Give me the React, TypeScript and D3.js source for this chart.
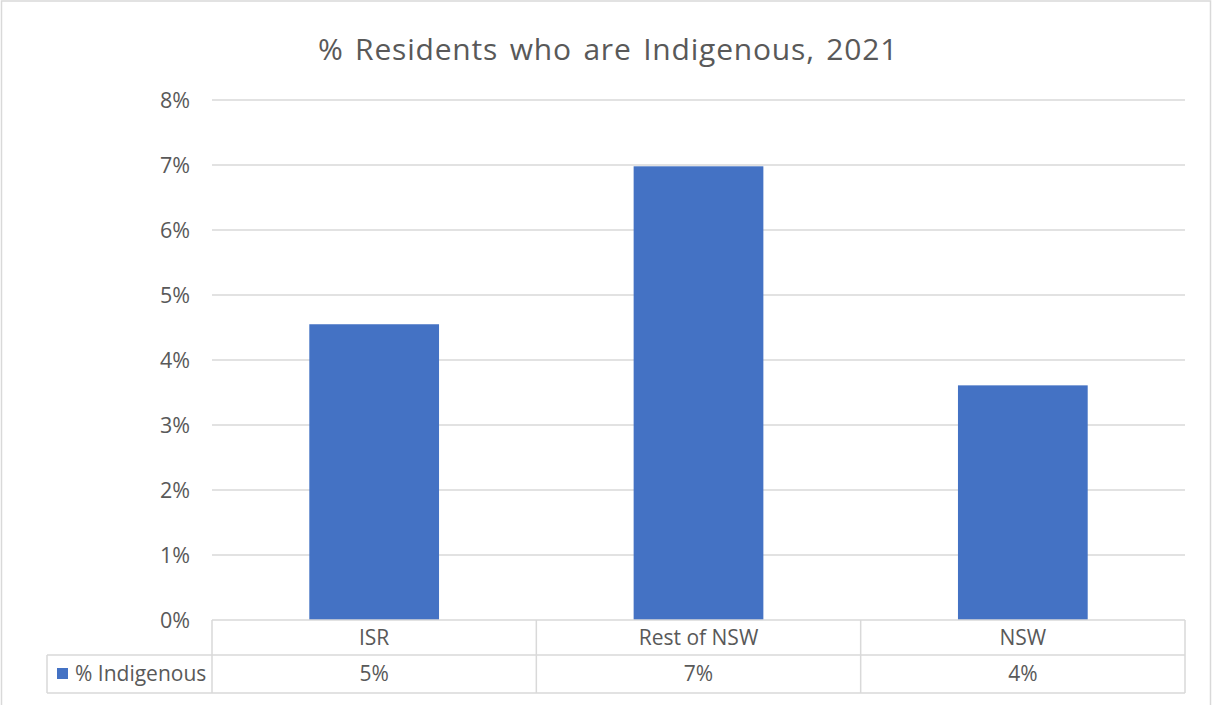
import React from "react";
import * as d3 from "d3";

const categories = ["ISR", "Rest of NSW", "NSW"];
const values = [4.55, 6.98, 3.61];
const valueLabels = ["5%", "7%", "4%"];
const yTicks = [0, 1, 2, 3, 4, 5, 6, 7, 8];
const seriesName = "% Indigenous";
const title = "% Residents who are Indigenous, 2021";

const W = 1213;
const H = 705;
const FONT = "'Open Sans', 'Noto Sans', sans-serif";
const TEXT = "#595959";
const GRID = "#d9d9d9";
const BAR = "#4472c4";

export default function App() {
  const plotLeft = 212;
  const plotRight = 1185;
  const plotTop = 100;
  const plotBottom = 620;
  const row1 = 655;
  const row2 = 693;
  const legendLeft = 47;

  const x = d3.scaleBand<string>().domain(categories).range([plotLeft, plotRight]).paddingInner(0.6).paddingOuter(0.3);
  const xCell = d3.scaleBand<string>().domain(categories).range([plotLeft, plotRight]).padding(0);
  const y = d3.scaleLinear().domain([0, 8]).range([plotBottom, plotTop]);

  return (
    <svg width={W} height={H} style={{ position: "absolute", left: 0, top: 0, background: "#fff" }} fontFamily={FONT}>
      <rect x={0} y={0} width={W} height={H} fill="#fff" />
      <rect x={1.5} y={1} width={1209} height={H + 5} fill="none" stroke={GRID} strokeWidth={1.5} />
      <text x={608} y={60} textAnchor="middle" fontSize={30} fill={TEXT} letterSpacing={0.8} wordSpacing={3}>{title}</text>
      {yTicks.map((t) => (
        <g key={t}>
          {t > 0 && (
            <line x1={plotLeft} x2={plotRight} y1={y(t)} y2={y(t)} stroke={GRID} strokeWidth={1.5} />
          )}
          <text x={190} y={y(t)} dy="0.35em" textAnchor="end" fontSize={21.5} fill={TEXT}>{`${t}%`}</text>
        </g>
      ))}
      {categories.map((c, i) => (
        <rect key={c} x={x(c)} y={y(values[i])} width={x.bandwidth()} height={plotBottom - y(values[i])} fill={BAR} />
      ))}
      {/* data table */}
      <g stroke={GRID} strokeWidth={1.5} fill="none">
        <line x1={plotLeft} x2={plotRight} y1={plotBottom} y2={plotBottom} />
        <line x1={legendLeft} x2={plotRight} y1={row1} y2={row1} />
        <line x1={legendLeft} x2={plotRight} y1={row2} y2={row2} />
        <line x1={legendLeft} x2={legendLeft} y1={row1} y2={row2} />
        {categories.map((c) => (
          <line key={c} x1={xCell(c)} x2={xCell(c)} y1={plotBottom} y2={row2} />
        ))}
        <line x1={plotRight} x2={plotRight} y1={plotBottom} y2={row2} />
      </g>
      {categories.map((c, i) => (
        <g key={c}>
          <text x={(xCell(c) as number) + xCell.bandwidth() / 2} y={(plotBottom + row1) / 2} dy="0.35em" textAnchor="middle" fontSize={21} fill={TEXT}>{c}</text>
          <text x={(xCell(c) as number) + xCell.bandwidth() / 2} y={(row1 + row2) / 2} dy="0.35em" textAnchor="middle" fontSize={21} fill={TEXT}>{valueLabels[i]}</text>
        </g>
      ))}
      <rect x={57} y={668} width={11} height={11} fill={BAR} />
      <text x={75} y={(row1 + row2) / 2} dy="0.35em" fontSize={21} fill={TEXT}>{seriesName}</text>
    </svg>
  );
}
